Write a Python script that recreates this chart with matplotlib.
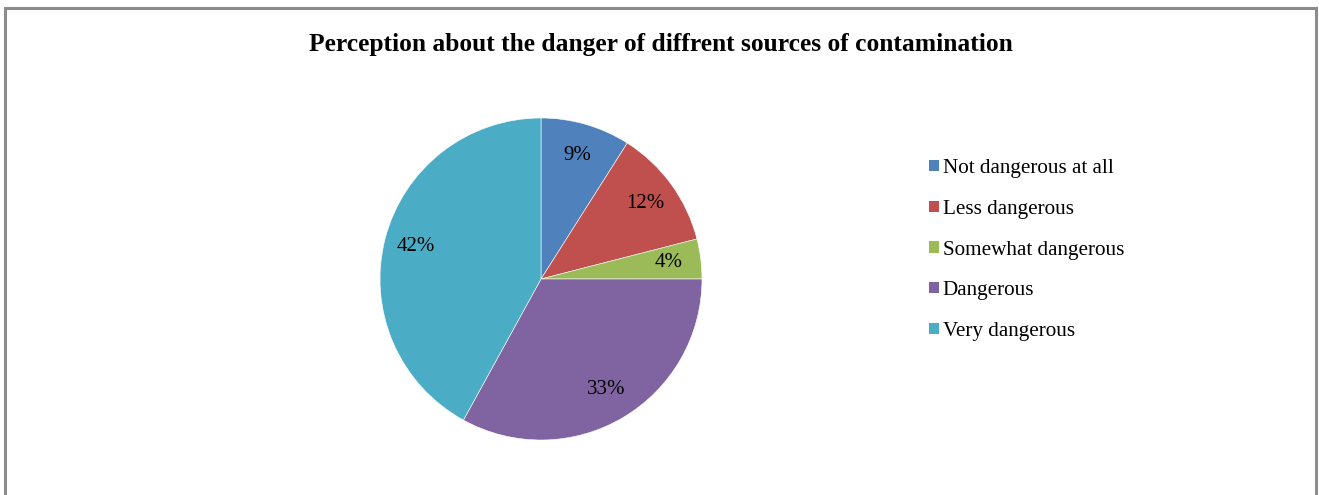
import matplotlib
matplotlib.use("Agg")
import matplotlib.pyplot as plt
from matplotlib.patches import Rectangle, Patch

categories = ["Not dangerous at all", "Less dangerous", "Somewhat dangerous", "Dangerous", "Very dangerous"]
values = [9, 12, 4, 33, 42]
colors = ["#4F81BD", "#C0504D", "#9BBB59", "#8064A2", "#4BACC6"]
title = "Perception about the danger of diffrent sources of contamination"

W, H = 1319, 495
fig = plt.figure(figsize=(W / 100, H / 100), dpi=100)
plt.rcParams['font.family'] = ['Liberation Serif', 'DejaVu Serif']

# border
fig.patches.append(Rectangle((5 / W, -0.05), (1316 - 5) / W, 1 - 8 / H + 0.05,
                             transform=fig.transFigure, fill=False,
                             edgecolor="#8c8c8c", linewidth=2.2))

cx, cy, r = 541, 279, 161
ax = fig.add_axes([(cx - r) / W, (H - cy - r) / H, 2 * r / W, 2 * r / H])
wedges, texts, autotexts = ax.pie(values, colors=colors, startangle=90, counterclock=False,
                                  autopct=lambda p: f"{p:.0f}%", pctdistance=0.8,
                                  radius=1, wedgeprops=dict(edgecolor="white", linewidth=0.4),
                                  textprops=dict(fontsize=15, color="black"))
ax.set_xlim(-1, 1)
ax.set_ylim(-1, 1)
ax.set_aspect("equal")
ax.axis("off")

fig.text(660.5 / W, 1 - 44 / H, title, ha="center", va="center", fontsize=18.4, fontweight="bold")

handles = [Patch(facecolor=c, edgecolor="none") for c in colors]
fig.legend(handles, categories, loc="center left", bbox_to_anchor=(929 / W, 1 - 250 / H),
           frameon=False, fontsize=15.2, handlelength=0.45, handleheight=0.45,
           handletextpad=0.2, labelspacing=1.03, borderpad=0, borderaxespad=0)

fig.savefig("out.png", dpi=100)
